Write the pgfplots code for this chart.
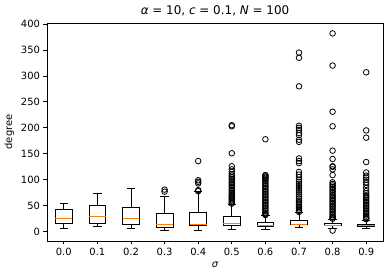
\documentclass[border=0pt]{standalone}
\usepackage{fontspec}
\setmainfont{DejaVu Sans}
\usepackage{pgfplots}
\pgfplotsset{compat=1.18}
\usepgfplotslibrary{statistics}
\usetikzlibrary{calc}
\definecolor{mplorange}{HTML}{FF7F0E}
\begin{document}
\begin{tikzpicture}
\begin{axis}[
  scale only axis, width=336bp, height=218bp,
  xmin=0.5, xmax=10.5, ymin=-18, ymax=402,
  xtick={1,...,10},
  xticklabels={0.0,0.1,0.2,0.3,0.4,0.5,0.6,0.7,0.8,0.9},
  ytick={0,50,...,400},
  tick align=outside, tick pos=left,
  major tick length=3.5bp,
  tick style={black, line width=0.8bp},
  axis line style={line width=0.8bp},
  /pgf/number format/assume math mode=true,
  ticklabel style={font=\fontsize{10}{12}\selectfont},
  label style={font=\fontsize{10}{12}\selectfont},
  title={{\itshape α} = 10, {\itshape c} = 0.1, {\itshape N} = 100},
  title style={font=\fontsize{12}{14}\selectfont, yshift=-2bp},
  xlabel={\itshape σ}, ylabel={degree},
  boxplot/draw direction=y,
  boxplot/box extend=0.5, boxplot/whisker extend=0.25,
  boxplot/every median/.style={draw=mplorange, line width=1bp},
  boxplot/every box/.style={draw=black, line width=1bp},
  boxplot/every whisker/.style={draw=black, line width=1bp},
  outl/.style={black, mark=o, mark size=2.8bp, mark options={solid, line width=0.8bp, fill=none}},
]
\addplot[outl, boxplot prepared={draw position=1, lower whisker=7, lower quartile=16.6, median=26, upper quartile=42, upper whisker=55}] coordinates {};
\addplot[outl, boxplot prepared={draw position=2, lower whisker=9, lower quartile=16.6, median=30, upper quartile=51, upper whisker=74}] coordinates {};
\addplot[outl, boxplot prepared={draw position=3, lower whisker=7, lower quartile=13, median=26, upper quartile=47, upper whisker=83.5}] coordinates {};
\addplot[outl, boxplot prepared={draw position=4, lower whisker=3, lower quartile=8, median=14.7, upper quartile=34, upper whisker=67.6}] coordinates {(4,81) (4,77)};
\addplot[outl, boxplot prepared={draw position=5, lower whisker=3, lower quartile=11, median=14.7, upper quartile=36, upper whisker=77}] coordinates {(5,136) (5,99) (5,96) (5,93) (5,80) (5,78)};
\addplot[outl, boxplot prepared={draw position=6, lower whisker=5, lower quartile=11, median=16.6, upper quartile=28.7, upper whisker=53}] coordinates {(6,205) (6,203) (6,151) (6,126) (6,120) (6,115) (6,111) (6,108) (6,105) (6,102) (6,99) (6,96) (6,93) (6,90) (6,87) (6,84) (6,81) (6,78) (6,75) (6,72) (6,70) (6,68) (6,66) (6,64) (6,62) (6,60) (6,58) (6,56) (6,54)};
\addplot[outl, boxplot prepared={draw position=7, lower whisker=4, lower quartile=10, median=11, upper quartile=18.5, upper whisker=31}] coordinates {(7,178) (7,109) (7,108) (7,106) (7,104) (7,102) (7,100) (7,97) (7,94) (7,91) (7,88) (7,85) (7,82) (7,79) (7,76) (7,73) (7,70) (7,67) (7,64) (7,61) (7,58) (7,55) (7,52) (7,49) (7,46) (7,43) (7,40) (7,37) (7,34) (7,32)};
\addplot[outl, boxplot prepared={draw position=8, lower whisker=8, lower quartile=13, median=14, upper quartile=22, upper whisker=36}] coordinates {(8,345) (8,335) (8,280) (8,204) (8,200) (8,196) (8,190) (8,186) (8,177) (8,173) (8,141) (8,136) (8,132) (8,115) (8,110) (8,105) (8,100) (8,96) (8,92) (8,88) (8,84) (8,80) (8,76) (8,72) (8,68) (8,64) (8,60) (8,57) (8,54) (8,51) (8,48) (8,45) (8,42) (8,40) (8,38)};
\addplot[outl, boxplot prepared={draw position=9, lower whisker=7, lower quartile=11.5, median=12.8, upper quartile=16.6, upper whisker=23.5}] coordinates {(9,382) (9,320) (9,231) (9,203) (9,156) (9,140) (9,126) (9,125) (9,120) (9,109) (9,95) (9,92) (9,89) (9,86) (9,83) (9,80) (9,77) (9,74) (9,71) (9,68) (9,65) (9,62) (9,59) (9,56) (9,53) (9,50) (9,47) (9,44) (9,41) (9,38) (9,35) (9,32) (9,29) (9,27) (9,25) (9,2)};
\addplot[outl, boxplot prepared={draw position=10, lower whisker=5.7, lower quartile=9.6, median=11.5, upper quartile=14.7, upper whisker=21.6}] coordinates {(10,307) (10,195) (10,181) (10,134) (10,114) (10,108) (10,104) (10,100) (10,95) (10,90) (10,84) (10,78) (10,74) (10,70) (10,67) (10,64) (10,61) (10,58) (10,55) (10,52) (10,49) (10,46) (10,43) (10,40) (10,37) (10,34) (10,31) (10,28) (10,26) (10,24)};
\end{axis}
\path ($(current axis.south west)+(-47bp,-38bp)$) rectangle ($(current axis.north east)+(9bp,23bp)$);
\end{tikzpicture}
\end{document}
